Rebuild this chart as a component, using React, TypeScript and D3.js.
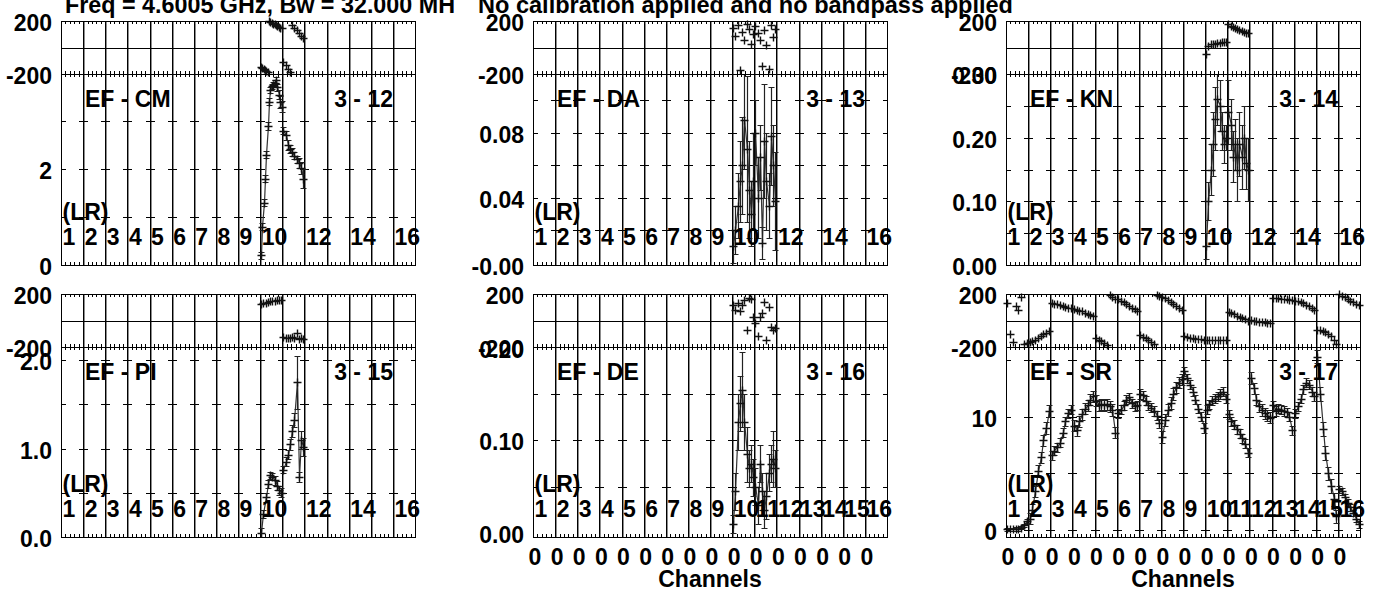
import React from "react";
import * as d3 from "d3";

const FONT = "'Liberation Sans', Arial, Helvetica, sans-serif";
const FS = 23;
const NIF = 16;

const titleLeft = "Freq = 4.6005 GHz, Bw = 32.000 MH";
const titleRight = "No calibration applied and no bandpass applied";
const xAxisTitle = "Channels";
const polLabel = "(LR)";

const phaseDomain: [number, number] = [-200, 200];
const phaseTickVals = [200, -200];
const phaseTickText = ["200", "-200"];
const ifLabelsSparse = [1, 2, 3, 4, 5, 6, 7, 8, 9, 10, 12, 14, 16];
const ifLabelsAll = [1, 2, 3, 4, 5, 6, 7, 8, 9, 10, 11, 12, 13, 14, 15, 16];
const channelTickText = ["0", "0", "0", "0", "0", "0", "0", "0", "0", "0", "0", "0", "0", "0", "0", "0"];

// ---- EF - CM (3 - 12)
const cmIFs = [10, 11];
const cmAmp = [
  [0.2, 0.8, 1.3, 1.8, 2.3, 2.9, 3.4, 3.65, 3.72, 3.76, 3.8, 3.85, 3.7, 3.55, 3.4, 3.3],
  [2.8, 2.7, 2.5, 2.42, 2.35, 2.28, 2.2, 2.13, 2.02, 1.8],
];
const cmErr = [
  [0.08, 0.08, 0.08, 0.08, 0.08, 0.08, 0.07, 0.06, 0.06, 0.06, 0.06, 0.06, 0.08, 0.1, 0.12, 0.12],
  [0.08, 0.1, 0.1, 0.08, 0.08, 0.08, 0.08, 0.1, 0.12, 0.2],
];
const cmPhase = [
  [-148, -155, -162, -168, -175, -182, 198, 192, 186, 180, 174, 168, 162, 156, 150, 145],
  [-110, -135, -160, -185, 170, 150, 130, 110, 90, 75],
];
const cmDashes = [1, 2, 3];
const cmTickVals = [0, 2];
const cmTickText = ["0", "2"];

// ---- EF - DA (3 - 13)
const daIFs = [10, 11];
const daAmp = [
  [0.01, 0.02, 0.035, 0.05, 0.06, 0.088, 0.07, 0.045, 0.03, 0.05],
  [0.08, 0.04, 0.065, 0.012, 0.075, 0.05, 0.035, 0.078, 0.06, 0.038],
];
const daErr = [
  [0.01, 0.015, 0.02, 0.025, 0.03, 0.03, 0.045, 0.03, 0.02, 0.03],
  [0.02, 0.025, 0.02, 0.01, 0.035, 0.03, 0.02, 0.03, 0.025, 0.03],
];
const daPhase = [
  [150, 90, 170, -170, 120, 60, 180, 140, 30, 100],
  [160, 110, 60, -140, 130, 20, -160, 170, 80, 140],
];
const daDashes = [0.02, 0.04, 0.06, 0.08, 0.1];
const daTickVals = [-0.0015, 0.04, 0.08];
const daTickText = ["-0.00", "0.04", "0.08"];

// ---- EF - KN (3 - 14)
const knIFs = [10, 11];
const knAmp = [
  [0.03, 0.1, 0.15, 0.19, 0.23, 0.26, 0.25, 0.21, 0.19, 0.2],
  [0.24, 0.22, 0.17, 0.19, 0.15, 0.19, 0.17, 0.2, 0.16, 0.15],
];
const knErr = [
  [0.02, 0.03, 0.04, 0.05, 0.05, 0.04, 0.04, 0.03, 0.03, 0.02],
  [0.05, 0.04, 0.04, 0.04, 0.05, 0.05, 0.05, 0.05, 0.04, 0.05],
];
const knPhase = [
  [-50, 10, 25, 30, 30, 32, 35, 38, 40, 42],
  [175, 165, 155, 148, 140, 133, 127, 120, 113, 108],
];
const knDashes = [0.05, 0.1, 0.15, 0.2, 0.25];
const knTickVals = [0, 0.1, 0.2, 0.3];
const knTickText = ["0.00", "0.10", "0.20", "0.30"];

// ---- EF - PI (3 - 15)
const piIFs = [10, 11];
const piAmp = [
  [0.05, 0.26, 0.45, 0.6, 0.7, 0.68, 0.64, 0.58, 0.53, 0.5],
  [0.76, 0.85, 0.93, 1.05, 1.2, 1.32, 1.75, 0.68, 1.1, 1.02],
];
const piErr = [
  [0.05, 0.05, 0.05, 0.05, 0.04, 0.04, 0.05, 0.05, 0.05, 0.05],
  [0.04, 0.05, 0.05, 0.06, 0.07, 0.08, 0.3, 0.06, 0.1, 0.1],
];
const piPhase = [
  [125, 130, 135, 140, 145, 148, 150, 153, 155, 158],
  [-128, -132, -130, -135, -128, -133, -95, -137, -135, -140],
];
const piDashes = [0.5, 1.0, 1.5, 2.0];
const piTickVals = [0, 1, 2];
const piTickText = ["0.0", "1.0", "2.0"];

// ---- EF - DE (3 - 16)
const deIFs = [10, 11];
const deAmp = [
  [0.01, 0.045, 0.12, 0.14, 0.155, 0.12, 0.085, 0.07, 0.075, 0.06],
  [0.05, 0.03, 0.075, 0.045, 0.025, 0.04, 0.065, 0.075, 0.08, 0.07],
];
const deErr = [
  [0.01, 0.02, 0.03, 0.03, 0.04, 0.03, 0.03, 0.02, 0.02, 0.02],
  [0.02, 0.02, 0.02, 0.02, 0.02, 0.025, 0.02, 0.02, 0.03, 0.02],
];
const dePhase = [
  [117, 80, 130, 70, 120, 155, -70, 170, 160, 30],
  [-20, -120, 30, 55, 140, -145, 100, -50, -75, -60],
];
const deDashes = [0.05, 0.1, 0.15];
const deTickVals = [0, 0.1, 0.2];
const deTickText = ["0.00", "0.10", "0.20"];

// ---- EF - SR (3 - 17)
const srIFs = [1, 2, 3, 4, 5, 6, 7, 8, 9, 10, 11, 12, 13, 14, 15, 16];
const srAmp = [
  [0.05, 0.05, 0.05, 0.08, 0.1, 0.2, 0.4, 0.8],
  [1.0, 1.8, 3.4, 5.2, 6.4, 7.9, 9.0, 10.5],
  [6.6, 7.0, 7.3, 7.7, 8.6, 9.6, 10.3, 10.6],
  [9.2, 8.8, 9.6, 10.2, 10.7, 11.0, 11.5, 11.8],
  [11.4, 11.0, 11.1, 11.0, 11.1, 10.9, 10.6, 8.6],
  [10.3, 10.6, 11.0, 11.5, 11.7, 11.2, 10.9, 11.0],
  [12.0, 11.9, 11.4, 11.0, 10.8, 10.5, 10.1, 9.4],
  [8.2, 9.7, 10.6, 11.2, 12.0, 12.6, 13.0, 13.3],
  [14.0, 13.4, 12.8, 12.2, 11.5, 10.7, 10.0, 9.0],
  [10.6, 11.1, 11.4, 11.6, 11.8, 12.0, 12.2, 11.6],
  [10.2, 9.6, 9.3, 8.9, 8.5, 8.1, 7.6, 6.8],
  [13.4, 12.5, 11.5, 10.9, 10.6, 10.3, 10.1, 9.9],
  [11.0, 10.5, 10.7, 10.6, 10.5, 10.4, 10.0, 8.8],
  [10.3, 10.9, 11.6, 12.4, 13.0, 12.8, 12.2, 11.8],
  [15.3, 12.0, 8.9, 6.8, 5.0, 3.9, 2.7, 1.2],
  [3.6, 3.4, 2.9, 2.4, 2.0, 1.5, 1.0, 0.5],
];
const srErrPerIF = [0.15, 0.5, 0.4, 0.5, 0.5, 0.4, 0.4, 0.5, 0.4, 0.4, 0.4, 0.5, 0.4, 0.4, 0.6, 0.3];
const srPhase = [
  [130, -100, -160, 110, 80, 180, -175, -170],
  [-165, -155, -145, -130, -118, -105, -92, -80],
  [132, 127, 122, 116, 110, 104, 98, 92],
  [90, 82, 75, 68, 60, 52, 44, 36],
  [-135, -145, -158, -170, -183, 190, 175, 160],
  [162, 150, 138, 125, 112, 98, 84, 70],
  [-110, -122, -135, -148, -160, -175, 195, 185],
  [180, 168, 155, 142, 128, 113, 98, 82],
  [-120, -126, -131, -135, -138, -141, -143, -145],
  [-147, -148, -148, -148, -147, -147, -146, -145],
  [64, 55, 46, 37, 28, 18, 8, -2],
  [2, -2, -5, -9, -12, -15, -18, -22],
  [168, 168, 167, 166, 164, 161, 157, 152],
  [150, 144, 137, 129, 119, 107, 94, 80],
  [-72, -75, -80, -88, -100, -118, -145, -180],
  [198, 186, 174, 162, 150, 139, 128, 118],
];
const srDashes = [0, 5, 10, 15];
const srTickVals = [0, 10];
const srTickText = ["0", "10"];

// ---- layout
const COL_LEFT = [61, 533, 1006];
const PANEL_W = 354;
const ROW_PHASE_TOP = [21, 294];
const ROW_AMP_TOP = [74, 347];
const ROW_AMP_BOTTOM = [265, 537];
const MARK = 4;

type PanelSpec = {
  col: number;
  row: number;
  name: string;
  ids: string;
  ifs: number[];
  amp: number[][];
  err: number[][];
  phase: number[][];
  domain: [number, number];
  dashes: number[];
  tickVals: number[];
  tickText: string[];
  ifLabels: number[];
  xLabels: boolean;
};

const panels: PanelSpec[] = [
  { col: 0, row: 0, name: "EF - CM", ids: "3 - 12", ifs: cmIFs, amp: cmAmp, err: cmErr, phase: cmPhase, domain: [0, 3.98], dashes: cmDashes, tickVals: cmTickVals, tickText: cmTickText, ifLabels: ifLabelsSparse, xLabels: false },
  { col: 1, row: 0, name: "EF - DA", ids: "3 - 13", ifs: daIFs, amp: daAmp, err: daErr, phase: daPhase, domain: [-0.0015, 0.1163], dashes: daDashes, tickVals: daTickVals, tickText: daTickText, ifLabels: ifLabelsSparse, xLabels: false },
  { col: 2, row: 0, name: "EF - KN", ids: "3 - 14", ifs: knIFs, amp: knAmp, err: knErr, phase: knPhase, domain: [0, 0.3], dashes: knDashes, tickVals: knTickVals, tickText: knTickText, ifLabels: ifLabelsSparse, xLabels: false },
  { col: 0, row: 1, name: "EF - PI", ids: "3 - 15", ifs: piIFs, amp: piAmp, err: piErr, phase: piPhase, domain: [0, 2.15], dashes: piDashes, tickVals: piTickVals, tickText: piTickText, ifLabels: ifLabelsSparse, xLabels: false },
  { col: 1, row: 1, name: "EF - DE", ids: "3 - 16", ifs: deIFs, amp: deAmp, err: deErr, phase: dePhase, domain: [-0.0043, 0.2009], dashes: deDashes, tickVals: deTickVals, tickText: deTickText, ifLabels: ifLabelsAll, xLabels: true },
  { col: 2, row: 1, name: "EF - SR", ids: "3 - 17", ifs: srIFs, amp: srAmp, err: srAmp.map((a, k) => a.map(() => srErrPerIF[k])), phase: srPhase, domain: [-0.62, 16.15], dashes: srDashes, tickVals: srTickVals, tickText: srTickText, ifLabels: ifLabelsAll, xLabels: true },
];

const r = (v: number) => Math.round(v) + 0.5;

function Panel({ p }: { p: PanelSpec }) {
  const left = COL_LEFT[p.col];
  const right = left + PANEL_W;
  const pt = ROW_PHASE_TOP[p.row];
  const at = ROW_AMP_TOP[p.row];
  const ab = ROW_AMP_BOTTOM[p.row];
  const x = d3.scaleLinear().domain([0, NIF]).range([left, right]);
  const ya = d3.scaleLinear().domain(p.domain).range([ab, at]);
  const yp = d3.scaleLinear().domain(phaseDomain).range([at, pt]);

  let grid = "";
  let grayGrid = "";
  d3.range(1, NIF).forEach((k) => {
    const bx = r(x(k));
    grid += `M${bx},${pt}V${ab}`;
    grayGrid += `M${bx + 1},${pt}V${ab}`;
  });

  let ticks = "";
  for (let k = 0; k < NIF; k++) {
    for (let j = 1; j <= 4; j++) {
      const tx = r(x(k + j / 5));
      ticks += `M${tx},${pt}v3M${tx},${at - 3}v6M${tx},${ab}v-3`;
    }
  }
  p.dashes.forEach((v) => {
    const dy = r(ya(v));
    for (let k = 0; k <= NIF; k++) {
      const bx = Math.round(x(k));
      const x0 = k === 0 ? bx : bx - 4;
      const x1 = k === NIF ? bx : bx + 5;
      ticks += `M${x0},${dy}H${x1}`;
    }
  });

  let marks = "";
  let errs = "";
  const lines: string[] = [];
  const lineGen = d3.line();
  p.ifs.forEach((f, fi) => {
    const vals = p.amp[fi];
    const n = vals.length;
    const pts: [number, number][] = [];
    vals.forEach((v, i) => {
      const cx = r(x(f - 1 + (i + 0.5) / n));
      const cy = ya(v);
      pts.push([cx, cy]);
      const e = p.err[fi][i];
      const y0 = r(Math.min(ab, ya(v - e)));
      const y1 = r(Math.max(at, ya(v + e)));
      errs += `M${cx},${y0}V${y1}M${cx - 3},${y0}h6M${cx - 3},${y1}h6`;
      const my = r(cy);
      marks += `M${cx - MARK},${my}h${2 * MARK}M${cx},${my - MARK}v${2 * MARK}`;
    });
    lines.push(lineGen(pts) || "");
    const ph = p.phase[fi];
    const m = ph.length;
    ph.forEach((v, i) => {
      const cx = r(x(f - 1 + (i + 0.5) / m));
      const cy = r(yp(v));
      marks += `M${cx - MARK},${cy}h${2 * MARK}M${cx},${cy - MARK}v${2 * MARK}`;
    });
  });

  const textStyle = { fontFamily: FONT, fontWeight: 700, fontSize: FS } as const;

  return (
    <g>
      <path d={grayGrid} stroke="#8c8c8c" strokeWidth={1} shapeRendering="crispEdges" fill="none" />
      <path d={grid} stroke="#000" strokeWidth={1} shapeRendering="crispEdges" fill="none" />
      <line x1={left} x2={right} y1={r(yp(0))} y2={r(yp(0))} stroke="#000" strokeWidth={1} shapeRendering="crispEdges" />
      <path d={ticks} stroke="#000" strokeWidth={1} shapeRendering="crispEdges" fill="none" />
      {lines.map((d, i) => (
        <path key={i} d={d} stroke="#333" strokeWidth={1.2} fill="none" />
      ))}
      <path d={errs} stroke="#222" strokeWidth={1.2} fill="none" />
      <path d={marks} stroke="#111" strokeWidth={1.4} fill="none" />
      <rect x={r(left)} y={r(pt)} width={PANEL_W} height={ab - pt} fill="none" stroke="#000" strokeWidth={1} shapeRendering="crispEdges" />
      <line x1={left} x2={right} y1={r(at)} y2={r(at)} stroke="#000" strokeWidth={1.5} shapeRendering="crispEdges" />

      {phaseTickVals.map((v, i) => (
        <text key={"pt" + i} x={left - 9} y={yp(v) + 10} textAnchor="end" style={textStyle}>
          {phaseTickText[i]}
        </text>
      ))}
      {p.tickVals.map((v, i) => (
        <text key={"at" + i} x={left - 9} y={ya(v) + 10} textAnchor="end" style={textStyle}>
          {p.tickText[i]}
        </text>
      ))}
      <text x={left + 24} y={at + 33} style={textStyle}>{p.name}</text>
      <text x={right - 22} y={at + 33} textAnchor="end" style={textStyle}>{p.ids}</text>
      <text x={left + 1.5} y={ab - 45} style={textStyle}>{polLabel}</text>
      {p.ifLabels.map((n) => (
        <text key={"if" + n} x={x(n - 1) + 1.5} y={ab - 20} style={textStyle}>{String(n)}</text>
      ))}
      {p.xLabels &&
        channelTickText.map((t, k) => (
          <text key={"xl" + k} x={x(k) + 2} y={ab + 28} textAnchor="middle" style={textStyle}>{t}</text>
        ))}
      {p.xLabels && (
        <text x={(left + right) / 2} y={ab + 50} textAnchor="middle" style={textStyle}>{xAxisTitle}</text>
      )}
    </g>
  );
}

export default function App() {
  const textStyle = { fontFamily: FONT, fontWeight: 700, fontSize: FS } as const;
  return (
    <svg
      width={1380}
      height={594}
      viewBox="0 0 1380 594"
      style={{ position: "absolute", left: 0, top: 0, background: "#fff" }}
    >
      <rect x={0} y={0} width={1380} height={594} fill="#fff" />
      <text x={65} y={13} textLength={390} lengthAdjust="spacingAndGlyphs" style={textStyle}>{titleLeft}</text>
      <text x={478} y={13} textLength={535} lengthAdjust="spacingAndGlyphs" style={textStyle}>{titleRight}</text>
      {panels.map((p, i) => (
        <Panel key={i} p={p} />
      ))}
    </svg>
  );
}
